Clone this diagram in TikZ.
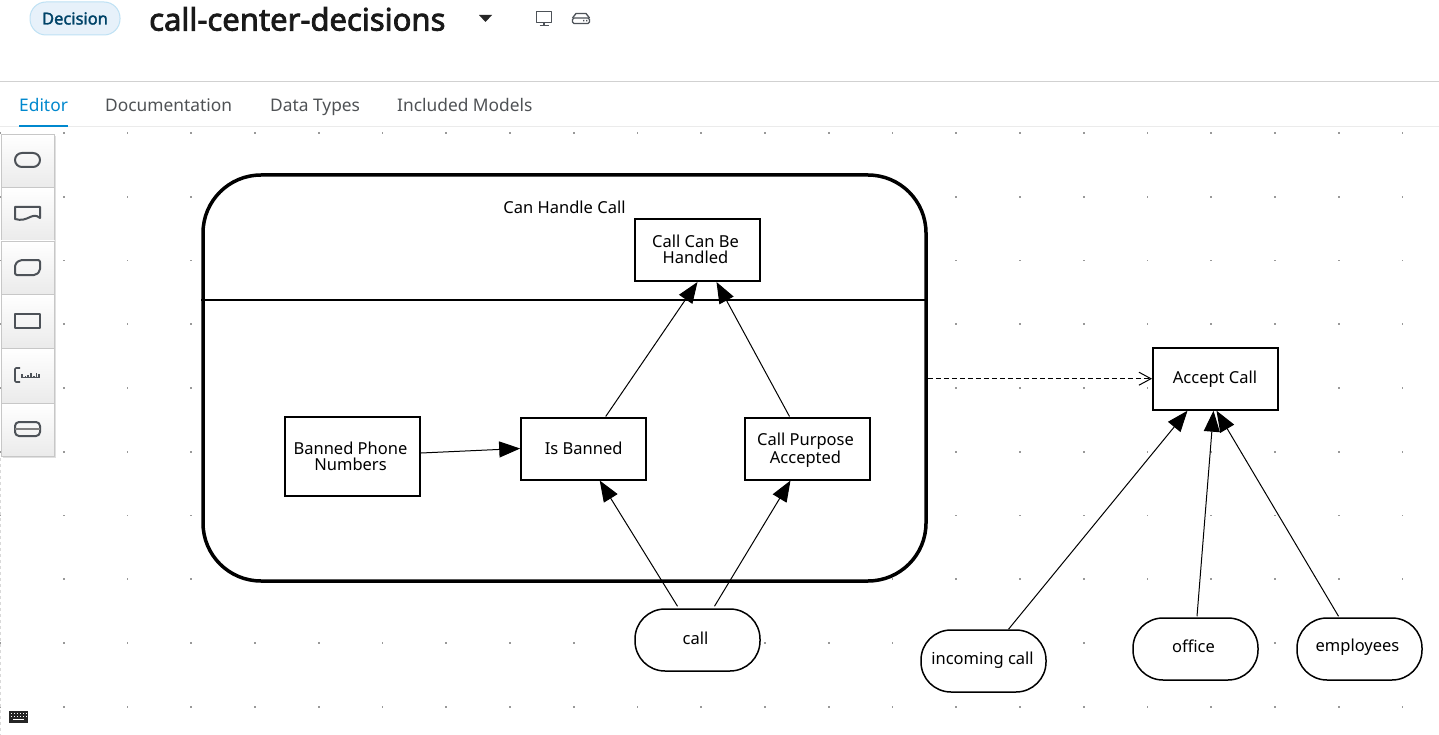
\documentclass[tikz,border=0pt]{standalone}
\usepackage{fontspec}
\setmainfont{Noto Sans}
\newfontfamily\heavyfont[FakeBold=2.5]{Noto Sans}
\newfontfamily\pillfont[FakeBold=1.8]{Noto Sans}
\usetikzlibrary{arrows.meta}
\definecolor{tabgrey}{HTML}{4F5255}
\definecolor{tabblue}{HTML}{0088CE}
\definecolor{icongrey}{HTML}{4D5258}
\definecolor{pillfill}{HTML}{E7F1FA}
\definecolor{pillline}{HTML}{BEE1F4}
\definecolor{pilltext}{HTML}{004368}
\tikzset{
  x=1pt,y=-1pt,
  every node/.style={inner sep=0pt,align=center,text=black,font=\fontsize{16.5}{16}\selectfont},
  decision/.style={draw=black,line width=2pt,fill=white,minimum width=125pt,minimum height=62pt},
  inputdata/.style={draw=black,line width=1.5pt,fill=white,minimum width=125pt,minimum height=62pt,rounded corners=30pt},
  knowledge/.style={decision,minimum width=135pt,minimum height=79pt},
  caption/.style args={#1/#2/#3}{label={[xshift=#1pt,yshift=#2pt]center:{#3}}},
  req/.style={line width=1pt,-{Triangle[length=21pt,width=16pt]}},
  kreq/.style={line width=1pt,dash pattern=on 5pt off 3pt,-{Straight Barb[length=12pt,width=13pt,line width=1pt]}},
  griddot/.style={fill=black!40},
  tool/.style={draw=black!22,top color=white,bottom color=black!8,line width=.8pt},
  icon/.style={draw=icongrey,line width=2pt,line join=round},
  tabtext/.style={font=\fontsize{17.35}{17}\selectfont,text=tabgrey,anchor=base west},
}
\begin{document}
\begin{tikzpicture}
\useasboundingbox[fill=white] (0,0) rectangle (1439,735);
% canvas dots
\foreach \i in {0,...,22}{\foreach \j in {0,...,9}{
  \fill[griddot] ({63.75*\i-.9},{133+63.75*\j-.9}) rectangle ++(1.8,1.8);
}}
% header
\draw[black!18,line width=1pt] (0,81.5) -- (1439,81.5);
\draw[black!8,line width=1pt] (0,126.5) -- (1439,126.5);
\node[draw=pillline,fill=pillfill,line width=1pt,rounded corners=16pt,minimum width=90pt,minimum height=33pt,
  text=pilltext,font=\fontsize{16.5}{16}\pillfont] (pill) at (75,18.5) {Decision};
\node[anchor=west,font=\fontsize{31}{30}\heavyfont,text=black!90] (title) at (149,19) {call-center-decisions};
\fill[black!85] (479,15) -- (492,15) -- (485.5,22) -- cycle;
\draw[icon,line width=1.5pt] (536.5,11.5) rectangle (551.5,22.5) (544,22.5) -- (544,25) (539.5,25.5) -- (548.5,25.5);
\draw[icon,line width=1.3pt,rounded corners=1.5pt] (572.5,23.5) rectangle (589.5,18);
\draw[icon,line width=1.3pt] (572.5,18) -- (576,13.5) -- (586,13.5) -- (589.5,18);
\fill[icongrey] (583,20) rectangle ++(1.4,1.4) (586,20) rectangle ++(1.4,1.4);
\node[tabtext,text=tabblue] (t1) at (19,111.5) {Editor};
\node[tabtext] (t2) at (105,111.5) {Documentation};
\node[tabtext] (t3) at (270,111.5) {Data Types};
\node[tabtext] (t4) at (397,111.5) {Included Models};
\fill[tabblue] (19,125.5) rectangle (68,127.5);
% toolbar
\fill[black!12] (3,136) rectangle (56,458);
\foreach \a/\b in {134/187.5,187.5/241,241/294,294/348,348/403,403/456}{
  \path[tool,draw] (1,\a) rectangle (54.5,\b);
}
\draw[icon,rounded corners=7pt] (15,153) rectangle (40,167);
\draw[icon] (15,207) -- (40,207) -- (40,218) .. controls (32,211) and (28,223) .. (15,219) -- cycle;
\draw[icon,rounded corners=2pt] (15,275) -- (15,264) -- (20,260) -- (40,260) -- (40,271) -- (36,275) -- cycle;
\draw[icon] (15,314) rectangle (40,328);
\draw[icon,line width=1.6pt,rounded corners=1pt] (20,368) -- (15,368) -- (15,382) -- (20,382);
\foreach \x/\h in {22/4,25.5/2,28/3,31/5,34/2,36.5/5,39/4}{\draw[icongrey,line width=1.5pt] (\x,377.5) -- ++(0,-\h);}
\draw[icongrey,line width=.8pt] (21,377.5) -- (40,377.5);
\draw[icon,rounded corners=4pt] (15,422) rectangle (40,436);
\draw[icon,line width=1.2pt,draw=black!50] (15,429) -- (40,429);
% keyboard
\fill[black!85] (9,711) rectangle (28,722.5);
\foreach \x in {11,14,17,20,23,25.5}{\fill[white] (\x,713) rectangle ++(1.3,1.3);\fill[white] (\x,716) rectangle ++(1.3,1.3);}
\fill[white] (13,719.2) rectangle (24,720.4);
\draw[black!15,dashed,line width=.7pt] (.3,458) -- (.3,735);
% decision service
\node[draw=black,line width=3.5pt,fill=white,rounded corners=58pt,minimum width=723pt,minimum height=406pt] (svc) at (564.5,378) {};
\draw[black,line width=1.5pt] (svc.west |- 0,300) coordinate (dl) -- (svc.east |- 0,300) coordinate (dr);
\node (svclabel) at (564.5,207.5) {Can Handle Call};
% nodes
\node[decision,caption={-2/1/Call Can Be\\Handled}] (ccbh) at (697.5,250) {};
\node[knowledge,caption={-2/0/Banned Phone\\Numbers}] (bpn) at (352.5,456.5) {};
\node[decision,caption={0/0/Is Banned}] (isb) at (583.7,448.5) {};
\node[decision,caption={-2/-1.5/Call Purpose\\Accepted}] (cpa) at (807.5,448.5) {};
\node[decision,caption={-.5/-.5/Accept Call}] (acc) at (1215.5,378.7) {};
\node[inputdata,caption={-2/2/call}] (call) at (697.5,640) {};
\node[inputdata,caption={-1/.5/incoming call}] (inc) at (983.5,661) {};
\node[inputdata,caption={-2/3/office}] (off) at (1195.5,649) {};
\node[inputdata,caption={-2/1.5/employees}] (emp) at (1359.5,649) {};
% connectors
\draw[req] ([xshift=-20pt,yshift=2pt]call.north) -- ([xshift=16pt]isb.south);
\draw[req] ([xshift=17pt,yshift=2pt]call.north) -- ([xshift=-17pt]cpa.south);
\draw[req] ([xshift=22pt]isb.north) -- (ccbh.south);
\draw[req] ([xshift=-18pt]cpa.north) -- ([xshift=19pt]ccbh.south);
\draw[req] ([yshift=3.5pt]bpn.east) -- (isb.west);
\draw[kreq] (svc.east |- acc.west) -- (acc.west);
\draw[req] ([xshift=25pt]inc.north) -- ([xshift=-28pt]acc.south);
\draw[req] ([xshift=1.5pt,yshift=1pt]off.north) -- ([xshift=-2pt]acc.south);
\draw[req] ([xshift=-21pt,yshift=1pt]emp.north) -- ([xshift=1pt]acc.south);
\end{tikzpicture}
\end{document}
